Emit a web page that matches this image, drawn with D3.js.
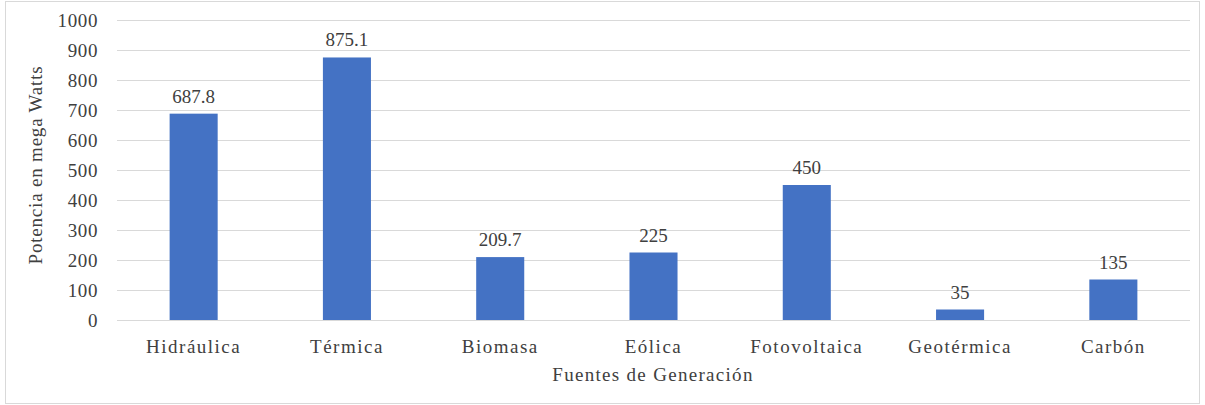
<!DOCTYPE html>
<html>
<head>
<meta charset="utf-8">
<script src="https://cdn.jsdelivr.net/npm/d3@7/dist/d3.min.js"></script>
<style>
  html, body { margin: 0; padding: 0; background: #fff; }
  svg { display: block; }
</style>
</head>
<body>
<script>
// Installed generation capacity by source (MW)
const categories = ["Hidráulica", "Térmica", "Biomasa", "Eólica", "Fotovoltaica", "Geotérmica", "Carbón"];
const values = [687.8, 875.1, 209.7, 225, 450, 35, 135];
const valueLabels = ["687.8", "875.1", "209.7", "225", "450", "35", "135"];
const yTicks = [0, 100, 200, 300, 400, 500, 600, 700, 800, 900, 1000];

const FONT = "'Liberation Serif', Tinos, 'Times New Roman', 'DejaVu Serif', serif";
const TXT = "#404040";

const W = 1205, H = 405;
const plot = { left: 117, right: 1190, top: 20, bottom: 320 };

const svg = d3.select("body").append("svg").attr("width", W).attr("height", H)
  .attr("font-family", FONT);

// outer frame
svg.append("rect")
  .attr("x", 5.5).attr("y", 1.5).attr("width", W - 11).attr("height", H - 3)
  .attr("fill", "#fff").attr("stroke", "#d9d9d9").attr("stroke-width", 1);

const xBand = d3.scaleBand().domain(categories).range([plot.left, plot.right]);
const barWidth = xBand.bandwidth() / 3.19;   // ~219% gap between bars
const y = d3.scaleLinear().domain([0, 1000]).range([plot.bottom, plot.top]);

// horizontal gridlines
svg.append("g").selectAll("line").data(yTicks).join("line")
  .attr("x1", plot.left).attr("x2", plot.right)
  .attr("y1", d => Math.round(y(d)) + 0.5).attr("y2", d => Math.round(y(d)) + 0.5)
  .attr("stroke", "#d9d9d9").attr("stroke-width", 1);

// y axis labels
const yAxis = d3.axisLeft(y).tickValues(yTicks).tickSize(0).tickPadding(0).tickFormat(d3.format("d"));
const gy = svg.append("g").attr("transform", `translate(${plot.left - 19},0)`).call(yAxis);
gy.attr("font-family", FONT).attr("font-size", 19);
gy.select(".domain").remove();
gy.selectAll("text").attr("fill", TXT).style("letter-spacing", "0.6px");

// bars
svg.append("g").selectAll("rect").data(values).join("rect")
  .attr("x", (d, i) => xBand(categories[i]) + xBand.bandwidth() / 2 - barWidth / 2)
  .attr("width", barWidth)
  .attr("y", d => y(d))
  .attr("height", d => y(0) - y(d))
  .attr("fill", "#4472c4");

// value labels above bars
svg.append("g").selectAll("text").data(values).join("text")
  .attr("x", (d, i) => xBand(categories[i]) + xBand.bandwidth() / 2)
  .attr("y", d => y(d) - 11)
  .attr("text-anchor", "middle")
  .attr("font-size", 19)
  .attr("fill", TXT)
  .text((d, i) => valueLabels[i]);

// category axis labels
const xAxis = d3.axisBottom(xBand).tickSize(0).tickPadding(0);
const gx = svg.append("g").attr("transform", `translate(0,${plot.bottom + 33})`).call(xAxis);
gx.attr("font-family", FONT).attr("font-size", 19);
gx.select(".domain").remove();
gx.selectAll("text").attr("fill", TXT).attr("dy", 0).style("letter-spacing", "1.5px");

// axis titles
svg.append("text")
  .attr("x", 653).attr("y", 381)
  .attr("text-anchor", "middle").attr("font-size", 19).attr("fill", TXT)
  .style("letter-spacing", "1.3px")
  .text("Fuentes de Generación");

svg.append("text")
  .attr("transform", `translate(42,165) rotate(-90)`)
  .attr("text-anchor", "middle").attr("font-size", 19).attr("fill", TXT)
  .style("letter-spacing", "0.8px")
  .text("Potencia en mega Watts");
</script>
</body>
</html>
